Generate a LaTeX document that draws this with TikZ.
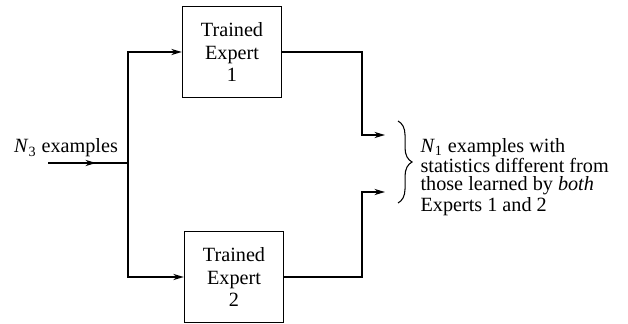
\documentclass[tikz,border=0pt]{standalone}
\usepackage{fontspec}
\setmainfont{Liberation Serif}
\usetikzlibrary{arrows.meta,decorations.pathreplacing,decorations.markings}

\tikzset{expert/.style={draw, line width=0.8pt, minimum width=1.98cm, minimum height=1.82cm, align=center,
    font=\fontsize{11.5}{12.6}\selectfont},
  midarrow/.style={postaction={decorate,decoration={markings,mark=at position 0.6 with {\arrow{>}}}}}}

\begin{document}
\begin{tikzpicture}[x=0.02cm,y=-0.02cm,line width=0.8pt,>={Stealth[length=6pt,width=3.5pt]},
  font=\fontsize{11.5}{10.3}\selectfont]
\useasboundingbox (0,0) rectangle (628,324);
% the two experts
\node[expert] (exp1) at (232,52) {Trained\\Expert\\1};
\node[expert] (exp2) at (234,277) {Trained\\Expert\\2};
% input side
\node (inlab) at (66,148) {\textit{N}\textsubscript{3} examples};
\coordinate (start) at (48,163);
\coordinate (split) at (128,163);
\draw[midarrow] (start) -- (split);
\draw[->] (split) |- (exp1.west);
\draw[->] (split) |- (exp2.west);
% output side
\coordinate (top) at (385,135);
\coordinate (bot) at (385,192);
\draw[->] (exp1.east) -| (362,135) -- (top);
\draw[->] (exp2.east) -| (362,192) -- (bot);
\draw[line width=0.6pt,decorate,decoration={brace,amplitude=8pt}] (398,121) -- (398,203);
\node[anchor=west,align=left] (outlab) at (414,177) {\textit{N}\textsubscript{1} examples with\\statistics different from\\those learned by \textit{both}\\Experts 1 and 2};
\end{tikzpicture}
\end{document}
